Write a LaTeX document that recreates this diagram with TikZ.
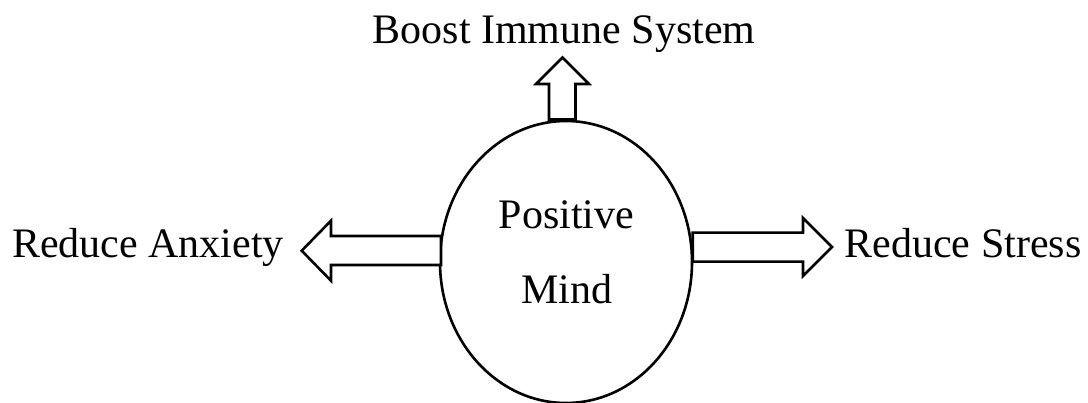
\documentclass[tikz,border=0pt]{standalone}
\usepackage{fontspec}
\setmainfont{Liberation Serif}
\usetikzlibrary{shapes.geometric}

\begin{document}
\begin{tikzpicture}[x=1pt,y=-1pt,
  lbl/.style={font=\fontsize{42}{50}\selectfont,inner sep=0pt,anchor=base},
  blk/.style={line width=2.6pt,fill=white,line join=miter}]
\useasboundingbox (0,0) rectangle (1088,403);

% the mind
\node [draw,ellipse,line width=2.6pt,minimum width=252,minimum height=282,inner sep=0pt] (mind) at (566,262) {};
\node [lbl] (positive) at (566.5,229) {Positive};
\node [lbl] (mindtxt) at (567,303.3) {Mind};


% block arrows
\draw [blk] (549,119.5) -- (549,84) -- (536,84) -- (562.5,57.5) -- (589,84) -- (575.5,84) -- (575.5,119.5) -- cycle;
\draw [blk] (441,236) -- (331,236) -- (331,220.7) -- (301.7,250.7) -- (331,280.7) -- (331,265) -- (441,265) -- cycle;
\draw [blk] (692.7,232.7) -- (803,232.7) -- (803,218) -- (832,247) -- (803,276) -- (803,261.7) -- (692.7,261.7) -- cycle;


% effects
\node [lbl] (boost) at (564,43.3) {Boost Immune System};
\node [lbl] (anxiety) at (148,257.7) {Reduce Anxiety};
\node [lbl] (stress) at (963,257.7) {Reduce Stress};
\end{tikzpicture}
\end{document}
